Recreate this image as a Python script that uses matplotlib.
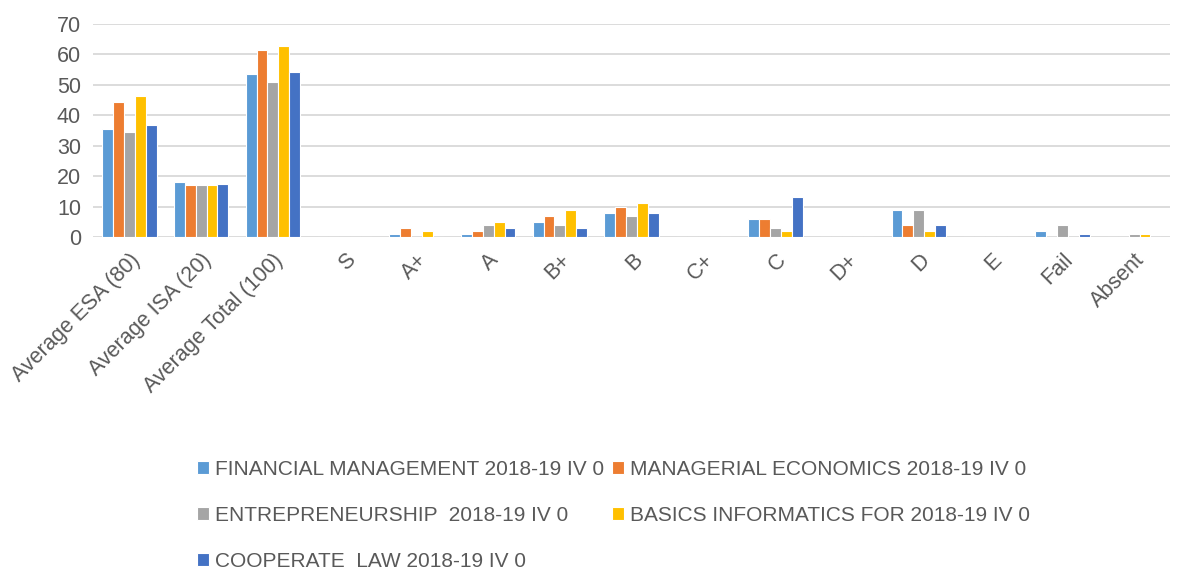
import matplotlib
matplotlib.use("Agg")
import matplotlib.pyplot as plt
import numpy as np

plt.rcParams['font.family'] = ['Liberation Sans Narrow', 'Liberation Sans', 'DejaVu Sans']

categories = ["Average ESA (80)", "Average ISA (20)", "Average Total (100)", "S", "A+", "A",
              "B+", "B", "C+", "C", "D+", "D", "E", "Fail", "Absent"]

fin_mgmt = [35.5, 18, 53.6, 0, 1, 1, 5, 8, 0, 6, 0, 9, 0, 2, 0]
man_econ = [44.3, 17, 61.5, 0, 3, 2, 7, 10, 0, 6, 0, 4, 0, 0, 0]
entrep = [34.5, 17, 50.9, 0, 0, 4, 4, 7, 0, 3, 0, 9, 0, 4, 1]
basics_inf = [46.3, 17, 62.8, 0, 2, 5, 9, 11, 0, 2, 0, 2, 0, 0, 1]
coop_law = [36.8, 17.5, 54.2, 0, 0, 3, 3, 8, 0, 13, 0, 4, 0, 1, 0]

series = [fin_mgmt, man_econ, entrep, basics_inf, coop_law]
names = ["FINANCIAL MANAGEMENT 2018-19 IV 0",
         "MANAGERIAL ECONOMICS 2018-19 IV 0",
         "ENTREPRENEURSHIP  2018-19 IV 0",
         "BASICS INFORMATICS FOR 2018-19 IV 0",
         "COOPERATE  LAW 2018-19 IV 0"]
colors = ["#5B9BD5", "#ED7D31", "#A5A5A5", "#FFC000", "#4472C4"]

txt = "#595959"

fig = plt.figure(figsize=(11.83, 5.71), dpi=100)
ax = fig.add_axes([0.079, 0.585, 0.91, 0.373])

x = np.arange(len(categories))
w = 0.152
for i, (vals, nm, c) in enumerate(zip(series, names, colors)):
    ax.bar(x + (i - 2) * w, vals, width=w, color=c, edgecolor="white", linewidth=0.8, label=nm, zorder=3)

ax.set_xlim(-0.5, len(categories) - 0.5)
ax.set_ylim(0, 70)
ax.set_yticks(range(0, 71, 10))
ax.yaxis.grid(True, color="#D9D9D9", linewidth=1.3, zorder=0)
for s in ax.spines.values():
    s.set_visible(False)
ax.tick_params(length=0, labelsize=15.5, colors=txt, pad=9)
ax.set_xticks(x)
ax.set_xticklabels(categories, rotation=45, ha="right", rotation_mode="anchor")

handles, labels = ax.get_legend_handles_labels()
# reorder for row-wise filling in 2 columns
order = [0, 2, 4, 1, 3]
leg = fig.legend([handles[k] for k in order], [labels[k] for k in order],
                 loc="upper left", bbox_to_anchor=(0.158, 0.213), ncol=2, frameon=False,
                 fontsize=15, labelspacing=1.3, handlelength=0.55, handleheight=0.55,
                 handletextpad=0.3, columnspacing=0.4, borderpad=0)
for t in leg.get_texts():
    t.set_color(txt)

fig.savefig("out.png", dpi=100)
